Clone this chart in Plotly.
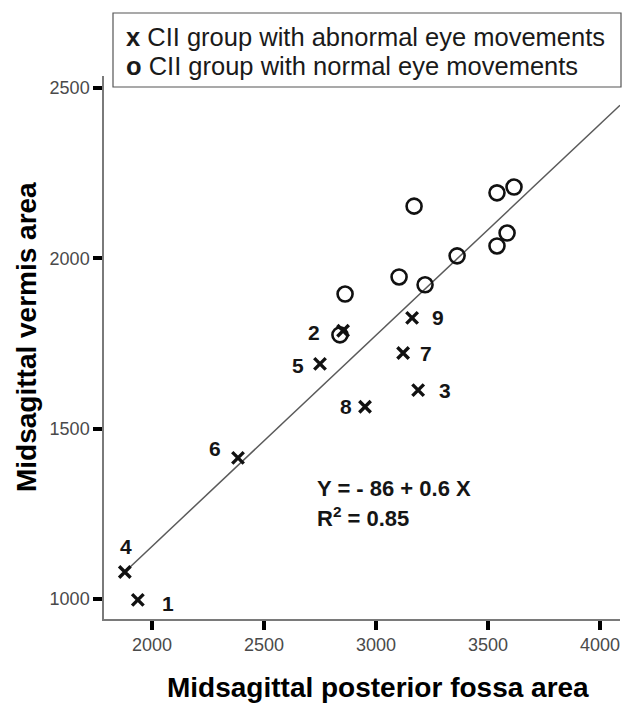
import plotly.graph_objects as go

# Abnormal eye movement cases (numbered 1-9)
abn_ids = [1, 2, 3, 4, 5, 6, 7, 8, 9]
abn_fossa = [1937, 2853, 3188, 1879, 2750, 2384, 3121, 2951, 3161]
abn_vermis = [997, 1787, 1613, 1079, 1690, 1414, 1722, 1564, 1825]

# Normal eye movement cases
nor_fossa = [2839, 2862, 3103, 3219, 3170, 3362, 3540, 3616, 3585, 3540]
nor_vermis = [1775, 1895, 1945, 1922, 2153, 2007, 2192, 2209, 2074, 2036]

# Regression fit (reported rounded in the equation label)
fit_intercept = -86
fit_slope = 0.62
r_squared = 0.85

x_ticks = [2000, 2500, 3000, 3500, 4000]
y_ticks = [1000, 1500, 2000, 2500]
x_range = [1786, 4089]
y_range = [941, 2535]

# Pixel offsets of each case-number label from its marker
label_shift = {1: (30, -4), 2: (-29, -2), 3: (27, 0), 4: (1, 25), 5: (-22, -2),
               6: (-23, 9), 7: (23, -1), 8: (-19, 0), 9: (26, 0)}

W, H = 628, 705
ML, MR, MT, MB = 104, 8, 76, 86
PW, PH = W - ML - MR, H - MT - MB


def px(x):
    return (x - ML) / PW


def py(y):
    return (H - MB - y) / PH


FONT = "Liberation Sans, Arial, sans-serif"

fig = go.Figure()

line_x = [min(abn_fossa + nor_fossa), x_range[1]]
fig.add_trace(go.Scatter(
    x=line_x, y=[fit_intercept + fit_slope * v for v in line_x],
    mode="lines", line=dict(color="#5a5a5a", width=1.5), hoverinfo="skip"))

fig.add_trace(go.Scatter(
    x=nor_fossa, y=nor_vermis, mode="markers",
    marker=dict(symbol="circle-open", size=15, color="#111111",
                line=dict(width=2.6, color="#111111"))))

fig.add_trace(go.Scatter(
    x=abn_fossa, y=abn_vermis, mode="markers",
    marker=dict(symbol="x-thin", size=11.5, color="#111111",
                line=dict(width=3.4, color="#111111"))))

annotations = []
for cid, xv, yv in zip(abn_ids, abn_fossa, abn_vermis):
    dx, dy = label_shift[cid]
    annotations.append(dict(
        x=xv, y=yv, xref="x", yref="y", text=f"<b>{cid}</b>", showarrow=False,
        xshift=dx, yshift=dy, font=dict(family=FONT, size=21, color="#151515")))

# Regression equation
sign = "-" if fit_intercept < 0 else "+"
annotations.append(dict(
    x=px(315), y=py(489), xref="paper", yref="paper", xanchor="left", yanchor="middle",
    text=f"<b>Y = {sign} {abs(fit_intercept)} + {fit_slope:.1f} X</b>", showarrow=False,
    font=dict(family=FONT, size=22, color="#151515")))
annotations.append(dict(
    x=px(315), y=py(517), xref="paper", yref="paper", xanchor="left", yanchor="middle",
    text=f"<b>R<sup>2</sup> = {r_squared:.2f}</b>", showarrow=False,
    font=dict(family=FONT, size=22, color="#151515")))

# Legend box text
annotations.append(dict(
    x=px(124), y=py(37), xref="paper", yref="paper", xanchor="left", yanchor="middle",
    text="<b>x</b> CII group with abnormal eye movements", showarrow=False,
    font=dict(family=FONT, size=25.5, color="#1a1a1a")))
annotations.append(dict(
    x=px(124), y=py(66), xref="paper", yref="paper", xanchor="left", yanchor="middle",
    text="<b>o</b> CII group with normal eye movements", showarrow=False,
    font=dict(family=FONT, size=25.5, color="#1a1a1a")))

# Axis titles
annotations.append(dict(
    x=px(378), y=py(687), xref="paper", yref="paper", xanchor="center", yanchor="middle",
    text="<b>Midsagittal posterior fossa area</b>", showarrow=False,
    font=dict(family=FONT, size=28, color="#000000")))
annotations.append(dict(
    x=px(26), y=py(337), xref="paper", yref="paper", xanchor="center", yanchor="middle",
    text="<b>Midsagittal vermis area</b>", showarrow=False, textangle=-90,
    font=dict(family=FONT, size=28, color="#000000")))

shapes = [dict(type="rect", xref="paper", yref="paper",
               x0=px(113), x1=px(621), y0=py(87), y1=py(13),
               line=dict(color="#555555", width=1.2), fillcolor="white", layer="above")]

axis_common = dict(
    showgrid=False, zeroline=False, showline=True, linecolor="#7a7a7a", linewidth=1.5,
    ticks="outside", tickcolor="#000000", tickwidth=3.5, ticklen=9,
    tickfont=dict(family=FONT, size=18, color="#4a4a4a"))

fig.update_layout(
    width=W, height=H, showlegend=False,
    margin=dict(l=ML, r=MR, t=MT, b=MB),
    paper_bgcolor="white", plot_bgcolor="white",
    xaxis=dict(range=x_range, tickvals=x_ticks, ticktext=[str(v) for v in x_ticks], **axis_common),
    yaxis=dict(range=y_range, tickvals=y_ticks, ticktext=[str(v) for v in y_ticks], **axis_common),
    annotations=annotations, shapes=shapes)

fig.write_html("out.html")
